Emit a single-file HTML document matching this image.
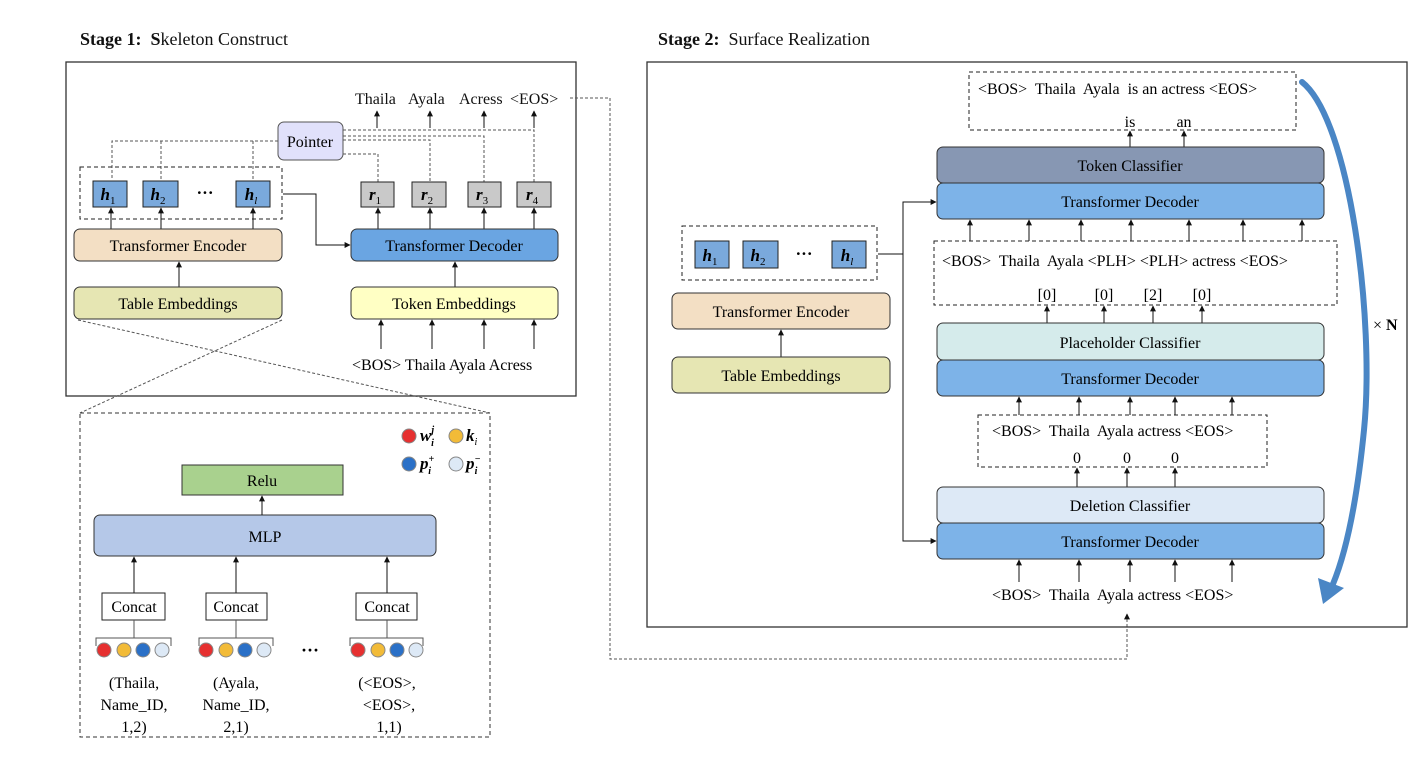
<!DOCTYPE html>
<html><head><meta charset="utf-8"><style>
html,body{margin:0;padding:0;background:#fff;}
svg{display:block;font-family:"Liberation Serif",serif;}
text{white-space:pre;}
</style></head><body>
<svg width="1426" height="782" viewBox="0 0 1426 782" xmlns="http://www.w3.org/2000/svg" xml:space="preserve">
<defs>
<marker id="a" viewBox="0 0 10 10" refX="9" refY="5" markerWidth="6" markerHeight="6" orient="auto"><path d="M0,0L10,5L0,10z" fill="#111"/></marker>
</defs>
<rect width="1426" height="782" fill="#fff"/>
<g font-size="18" fill="#111">
<text x="80" y="45"><tspan font-weight="bold">Stage 1:  S</tspan>keleton Construct</text>
<text x="658" y="45"><tspan font-weight="bold">Stage 2:  </tspan>Surface Realization</text>
</g>
<!-- Stage 1 -->
<rect x="66" y="62" width="510" height="334" fill="none" stroke="#333" stroke-width="1.3"/>
<g font-size="16" fill="#111">
<text x="355" y="104">Thaila</text><text x="408" y="104">Ayala</text><text x="459" y="104">Acress</text><text x="510" y="104">&lt;EOS&gt;</text>
</g>
<g stroke="#111" stroke-width="1" marker-end="url(#a)">
<line x1="377" y1="128" x2="377" y2="111"/><line x1="430" y1="128" x2="430" y2="111"/><line x1="484" y1="128" x2="484" y2="111"/><line x1="534" y1="128" x2="534" y2="111"/>
</g>
<g stroke="#555" stroke-width="1" stroke-dasharray="3,2" fill="none">
<path d="M343,130H534V182"/><path d="M343,136H484V182"/><path d="M343,140H430V182"/><path d="M343,154H378V182"/>
<path d="M278,141H112V179"/><path d="M161,141V179"/><path d="M253,141V179"/>
</g>
<rect x="278" y="122" width="65" height="38" rx="6" fill="#e1e1fb" stroke="#555"/>
<text x="310" y="147" font-size="16" text-anchor="middle">Pointer</text>
<rect x="80" y="167" width="202" height="52" fill="none" stroke="#222" stroke-dasharray="4,3"/>
<g fill="#7aa9dc" stroke="#222">
<rect x="93" y="181" width="34" height="26"/><rect x="143" y="181" width="35" height="26"/><rect x="236" y="181" width="34" height="26"/>
</g>
<g font-size="17" font-weight="bold" font-style="italic" text-anchor="middle">
<text x="108" y="200">h<tspan font-size="11" font-weight="normal" font-style="normal" dy="4">1</tspan></text>
<text x="158" y="200">h<tspan font-size="11" font-weight="normal" font-style="normal" dy="4">2</tspan></text>
<text x="251" y="200">h<tspan font-size="11" font-weight="normal" font-style="italic" dy="4">l</tspan></text>
<text x="205" y="198" font-style="normal">···</text>
</g>
<g fill="#c9c9c9" stroke="#222">
<rect x="361" y="182" width="33" height="25"/><rect x="412" y="182" width="34" height="25"/><rect x="468" y="182" width="33" height="25"/><rect x="517" y="182" width="34" height="25"/>
</g>
<g font-size="17" font-weight="bold" font-style="italic" text-anchor="middle">
<text x="375" y="200">r<tspan font-size="11" font-weight="normal" font-style="normal" dy="4">1</tspan></text>
<text x="427" y="200">r<tspan font-size="11" font-weight="normal" font-style="normal" dy="4">2</tspan></text>
<text x="482" y="200">r<tspan font-size="11" font-weight="normal" font-style="normal" dy="4">3</tspan></text>
<text x="532" y="200">r<tspan font-size="11" font-weight="normal" font-style="normal" dy="4">4</tspan></text>
</g>
<g stroke="#111" stroke-width="1" marker-end="url(#a)" fill="none">
<line x1="111" y1="229" x2="111" y2="208"/><line x1="161" y1="229" x2="161" y2="208"/><line x1="253" y1="229" x2="253" y2="208"/>
<line x1="378" y1="229" x2="378" y2="208"/><line x1="430" y1="229" x2="430" y2="208"/><line x1="484" y1="229" x2="484" y2="208"/><line x1="534" y1="229" x2="534" y2="208"/>
<line x1="179" y1="287" x2="179" y2="262"/><line x1="455" y1="287" x2="455" y2="262"/>
<path d="M283,194H316V245H350"/>
<line x1="381" y1="349" x2="381" y2="320"/><line x1="432" y1="349" x2="432" y2="320"/><line x1="484" y1="349" x2="484" y2="320"/><line x1="534" y1="349" x2="534" y2="320"/>
</g>
<rect x="74" y="229" width="208" height="32" rx="6" fill="#f3dfc4" stroke="#333"/>
<text x="178" y="251" font-size="16" text-anchor="middle">Transformer Encoder</text>
<rect x="351" y="229" width="207" height="32" rx="6" fill="#6aa5e2" stroke="#333"/>
<text x="454" y="251" font-size="16" text-anchor="middle">Transformer Decoder</text>
<rect x="74" y="287" width="208" height="32" rx="6" fill="#e6e6b3" stroke="#333"/>
<text x="178" y="309" font-size="16" text-anchor="middle">Table Embeddings</text>
<rect x="351" y="287" width="207" height="32" rx="6" fill="#ffffc4" stroke="#333"/>
<text x="454" y="309" font-size="16" text-anchor="middle">Token Embeddings</text>
<text x="352" y="370" font-size="16">&lt;BOS&gt; Thaila Ayala Acress</text>
<g stroke="#555" stroke-dasharray="3,2" fill="none">
<line x1="78" y1="320" x2="490" y2="413"/><line x1="282" y1="320" x2="80" y2="413"/>
<path d="M570,98H610V659H1127V614" marker-end="url(#a)"/>
</g>
<!-- detail -->
<rect x="80" y="413" width="410" height="324" fill="none" stroke="#333" stroke-dasharray="4,3"/>
<circle cx="409" cy="436" r="7" fill="#e63030" stroke="#888"/><circle cx="456" cy="436" r="7" fill="#f2bb38" stroke="#888"/>
<circle cx="409" cy="464" r="7" fill="#2a70c7" stroke="#888"/><circle cx="456" cy="464" r="7" fill="#dde9f6" stroke="#888"/>
<g font-size="17" font-weight="bold" font-style="italic">
<text x="420" y="441">w<tspan font-size="10" dy="-8">j</tspan><tspan font-size="10" dx="-3" dy="13">i</tspan></text>
<text x="466" y="441">k<tspan font-size="10" font-weight="normal" dy="4">i</tspan></text>
<text x="420" y="469">p<tspan font-size="10" dy="-7">+</tspan><tspan font-size="10" dx="-6" dy="12">i</tspan></text>
<text x="466" y="469">p<tspan font-size="10" dy="-7">−</tspan><tspan font-size="10" dx="-6" dy="12">i</tspan></text>
</g>
<rect x="182" y="465" width="161" height="30" fill="#a9d18e" stroke="#333"/>
<text x="262" y="486" font-size="16" text-anchor="middle">Relu</text>
<rect x="94" y="515" width="342" height="41" rx="6" fill="#b5c8e8" stroke="#333"/>
<text x="265" y="542" font-size="16" text-anchor="middle">MLP</text>
<g stroke="#111" marker-end="url(#a)">
<line x1="262" y1="515" x2="262" y2="496"/>
<line x1="134" y1="593" x2="134" y2="557"/><line x1="236" y1="593" x2="236" y2="557"/><line x1="387" y1="593" x2="387" y2="557"/>
</g>
<g fill="#fff" stroke="#222">
<rect x="102" y="593" width="63" height="27"/><rect x="206" y="593" width="61" height="27"/><rect x="356" y="593" width="61" height="27"/>
</g>
<g font-size="16" text-anchor="middle">
<text x="134" y="612">Concat</text><text x="236" y="612">Concat</text><text x="387" y="612">Concat</text>
</g>
<g stroke="#555" fill="none">
<path d="M96,646V638H171V646M134,638V620"/><path d="M199,646V638H273V646M236,638V620"/><path d="M350,646V638H423V646M387,638V620"/>
</g>
<g stroke="#888">
<circle cx="104" cy="650" r="7" fill="#e63030"/><circle cx="124" cy="650" r="7" fill="#f2bb38"/><circle cx="143" cy="650" r="7" fill="#2a70c7"/><circle cx="162" cy="650" r="7" fill="#dde9f6"/>
<circle cx="206" cy="650" r="7" fill="#e63030"/><circle cx="226" cy="650" r="7" fill="#f2bb38"/><circle cx="245" cy="650" r="7" fill="#2a70c7"/><circle cx="264" cy="650" r="7" fill="#dde9f6"/>
<circle cx="358" cy="650" r="7" fill="#e63030"/><circle cx="378" cy="650" r="7" fill="#f2bb38"/><circle cx="397" cy="650" r="7" fill="#2a70c7"/><circle cx="416" cy="650" r="7" fill="#dde9f6"/>
</g>
<text x="310" y="656" font-size="18" text-anchor="middle" font-weight="bold">···</text>
<g font-size="16" text-anchor="middle">
<text x="134" y="688">(Thaila,</text><text x="134" y="710">Name_ID,</text><text x="134" y="732">1,2)</text>
<text x="236" y="688">(Ayala,</text><text x="236" y="710">Name_ID,</text><text x="236" y="732">2,1)</text>
<text x="387" y="688">(&lt;EOS&gt;,</text><text x="389" y="710">&lt;EOS&gt;,</text><text x="389" y="732">1,1)</text>
</g>
<!-- Stage 2 -->
<rect x="647" y="62" width="760" height="565" fill="none" stroke="#333" stroke-width="1.3"/>
<rect x="969" y="72" width="327" height="58" fill="none" stroke="#222" stroke-dasharray="4,3"/>
<text x="978" y="94" font-size="16">&lt;BOS&gt;  Thaila  Ayala  is an actress &lt;EOS&gt;</text>
<text x="1130" y="127" font-size="16" text-anchor="middle">is</text><text x="1184" y="127" font-size="16" text-anchor="middle">an</text>
<g stroke="#111" marker-end="url(#a)">
<line x1="1130" y1="147" x2="1130" y2="131"/><line x1="1184" y1="147" x2="1184" y2="131"/>
<line x1="970" y1="241" x2="970" y2="220"/><line x1="1029" y1="241" x2="1029" y2="220"/><line x1="1081" y1="241" x2="1081" y2="220"/><line x1="1131" y1="241" x2="1131" y2="220"/><line x1="1189" y1="241" x2="1189" y2="220"/><line x1="1243" y1="241" x2="1243" y2="220"/><line x1="1302" y1="241" x2="1302" y2="220"/>
<line x1="1047" y1="323" x2="1047" y2="306"/><line x1="1104" y1="323" x2="1104" y2="306"/><line x1="1153" y1="323" x2="1153" y2="306"/><line x1="1202" y1="323" x2="1202" y2="306"/>
<line x1="1019" y1="415" x2="1019" y2="397"/><line x1="1079" y1="415" x2="1079" y2="397"/><line x1="1130" y1="415" x2="1130" y2="397"/><line x1="1175" y1="415" x2="1175" y2="397"/><line x1="1232" y1="415" x2="1232" y2="397"/>
<line x1="1077" y1="487" x2="1077" y2="468"/><line x1="1127" y1="487" x2="1127" y2="468"/><line x1="1175" y1="487" x2="1175" y2="468"/>
<line x1="1019" y1="582" x2="1019" y2="560"/><line x1="1079" y1="582" x2="1079" y2="560"/><line x1="1130" y1="582" x2="1130" y2="560"/><line x1="1175" y1="582" x2="1175" y2="560"/><line x1="1232" y1="582" x2="1232" y2="560"/>
</g>
<rect x="937" y="147" width="387" height="36" rx="6" fill="#8797b3" stroke="#333"/>
<text x="1130" y="171" font-size="16" text-anchor="middle">Token Classifier</text>
<rect x="937" y="183" width="387" height="36" rx="6" fill="#7db3e8" stroke="#333"/>
<text x="1130" y="207" font-size="16" text-anchor="middle">Transformer Decoder</text>
<rect x="934" y="241" width="403" height="64" fill="none" stroke="#222" stroke-dasharray="4,3"/>
<text x="942" y="266" font-size="16">&lt;BOS&gt;  Thaila  Ayala &lt;PLH&gt; &lt;PLH&gt; actress &lt;EOS&gt;</text>
<g font-size="16" text-anchor="middle"><text x="1047" y="300">[0]</text><text x="1104" y="300">[0]</text><text x="1153" y="300">[2]</text><text x="1202" y="300">[0]</text></g>
<rect x="937" y="323" width="387" height="37" rx="6" fill="#d5ebeb" stroke="#333"/>
<text x="1130" y="348" font-size="16" text-anchor="middle">Placeholder Classifier</text>
<rect x="937" y="360" width="387" height="36" rx="6" fill="#7db3e8" stroke="#333"/>
<text x="1130" y="384" font-size="16" text-anchor="middle">Transformer Decoder</text>
<rect x="978" y="415" width="289" height="52" fill="none" stroke="#222" stroke-dasharray="4,3"/>
<text x="992" y="436" font-size="16">&lt;BOS&gt;  Thaila  Ayala actress &lt;EOS&gt;</text>
<g font-size="16" text-anchor="middle"><text x="1077" y="463">0</text><text x="1127" y="463">0</text><text x="1175" y="463">0</text></g>
<rect x="937" y="487" width="387" height="36" rx="6" fill="#dde9f6" stroke="#333"/>
<text x="1130" y="511" font-size="16" text-anchor="middle">Deletion Classifier</text>
<rect x="937" y="523" width="387" height="36" rx="6" fill="#7db3e8" stroke="#333"/>
<text x="1130" y="547" font-size="16" text-anchor="middle">Transformer Decoder</text>
<text x="992" y="600" font-size="16">&lt;BOS&gt;  Thaila  Ayala actress &lt;EOS&gt;</text>
<!-- left of stage 2 -->
<rect x="682" y="226" width="195" height="54" fill="none" stroke="#222" stroke-dasharray="4,3"/>
<g fill="#7aa9dc" stroke="#222"><rect x="695" y="241" width="34" height="27"/><rect x="743" y="241" width="35" height="27"/><rect x="832" y="241" width="34" height="27"/></g>
<g font-size="17" font-weight="bold" font-style="italic" text-anchor="middle">
<text x="710" y="261">h<tspan font-size="11" font-weight="normal" font-style="normal" dy="4">1</tspan></text>
<text x="758" y="261">h<tspan font-size="11" font-weight="normal" font-style="normal" dy="4">2</tspan></text>
<text x="847" y="261">h<tspan font-size="11" font-weight="normal" dy="4">l</tspan></text>
<text x="804" y="259" font-style="normal">···</text>
</g>
<g stroke="#111" marker-end="url(#a)" fill="none">
<line x1="781" y1="357" x2="781" y2="330"/>
<path d="M878,254H903V202H936"/><path d="M903,254V541H936"/>
</g>
<rect x="672" y="293" width="218" height="36" rx="6" fill="#f3dfc4" stroke="#333"/>
<text x="781" y="317" font-size="16" text-anchor="middle">Transformer Encoder</text>
<rect x="672" y="357" width="218" height="36" rx="6" fill="#e6e6b3" stroke="#333"/>
<text x="781" y="381" font-size="16" text-anchor="middle">Table Embeddings</text>
<!-- curved arrow -->
<path d="M1302,82 C1350,120 1375,320 1364,430 C1356,510 1345,555 1333,584" fill="none" stroke="#4a86c5" stroke-width="6" stroke-linecap="round"/>
<polygon points="1323,604 1318,578 1344,588" fill="#4a86c5"/>
<text x="1373" y="330" font-size="16"><tspan>× </tspan><tspan font-weight="bold">N</tspan></text>
</svg>
</body></html>
